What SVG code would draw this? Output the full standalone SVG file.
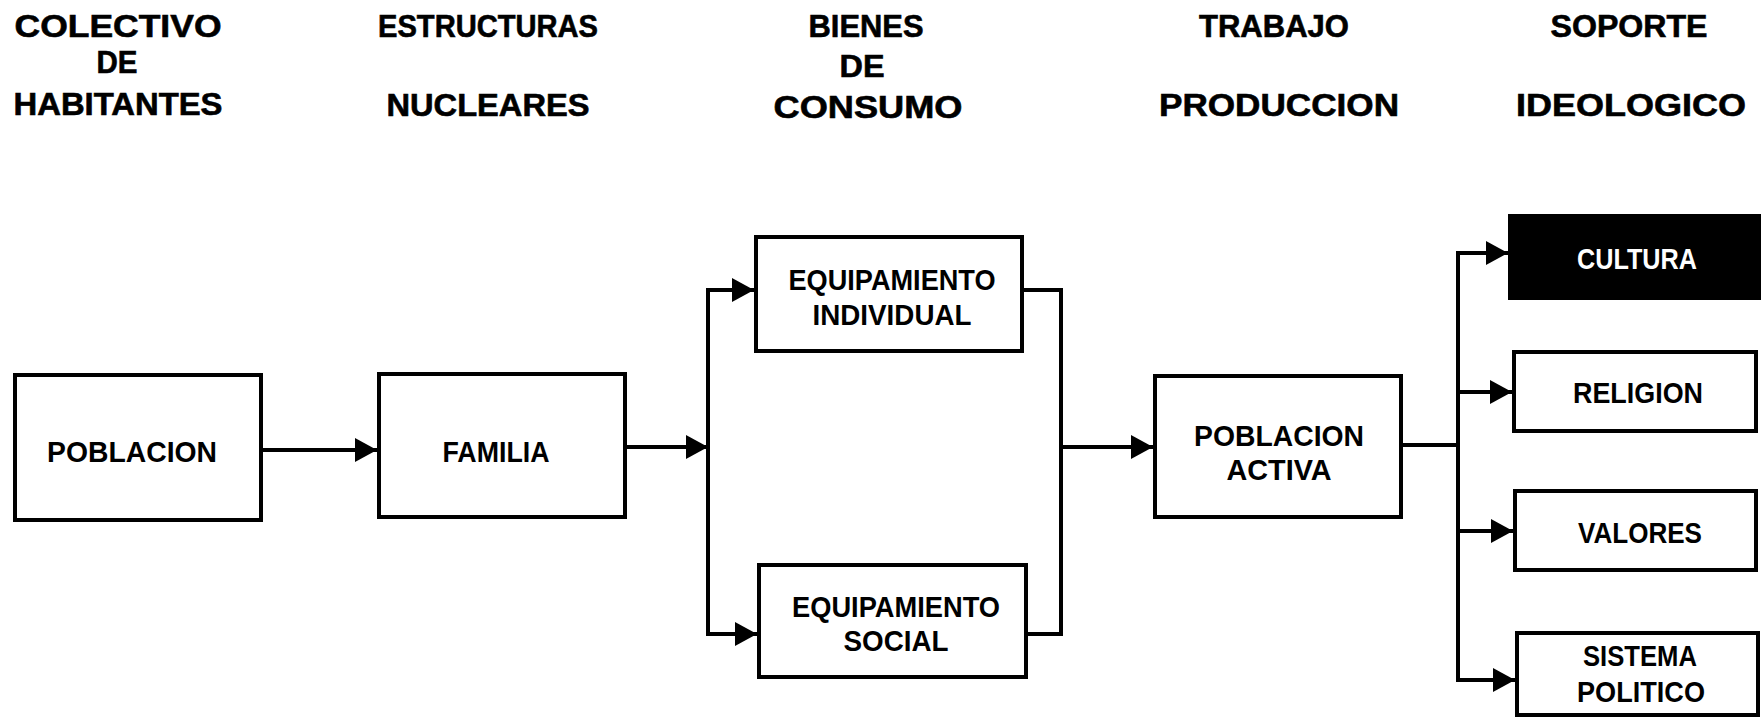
<svg xmlns="http://www.w3.org/2000/svg" width="1761" height="719" viewBox="0 0 1761 719">
  <style>
    .box { fill: #ffffff; stroke: #000000; stroke-width: 4; }
    .dark { fill: #000000; stroke: #000000; stroke-width: 2; }
    .t { font-family: "Liberation Sans", Arial, sans-serif; font-weight: bold; font-size: 30px; fill: #000000; text-anchor: middle; }
    .w { fill: #ffffff; }
    .h { font-family: "Liberation Sans", Arial, sans-serif; font-weight: bold; font-size: 31px; fill: #000000; text-anchor: middle; stroke: #000000; stroke-width: 0.6; }
    .c { fill: none; stroke: #000000; stroke-width: 4; }
  </style>
  <defs>
    <marker id="arr" markerUnits="userSpaceOnUse" markerWidth="22" markerHeight="24" refX="22" refY="12" orient="auto">
      <path d="M0,0 L22,12 L0,24 Z" fill="#000000"/>
    </marker>
  </defs>
  <rect width="1761" height="719" fill="#ffffff"/>

  <g id="headers">
    <text class="h" x="118" y="37" textLength="207" lengthAdjust="spacingAndGlyphs">COLECTIVO</text>
    <text class="h" x="117" y="73" textLength="41" lengthAdjust="spacingAndGlyphs">DE</text>
    <text class="h" x="118" y="115" textLength="209" lengthAdjust="spacingAndGlyphs">HABITANTES</text>
    <text class="h" x="488" y="37" textLength="220" lengthAdjust="spacingAndGlyphs">ESTRUCTURAS</text>
    <text class="h" x="488" y="116" textLength="203" lengthAdjust="spacingAndGlyphs">NUCLEARES</text>
    <text class="h" x="866" y="37" textLength="115" lengthAdjust="spacingAndGlyphs">BIENES</text>
    <text class="h" x="862" y="77" textLength="45" lengthAdjust="spacingAndGlyphs">DE</text>
    <text class="h" x="868" y="118" textLength="189" lengthAdjust="spacingAndGlyphs">CONSUMO</text>
    <text class="h" x="1274" y="37" textLength="150" lengthAdjust="spacingAndGlyphs">TRABAJO</text>
    <text class="h" x="1279" y="116" textLength="240" lengthAdjust="spacingAndGlyphs">PRODUCCION</text>
    <text class="h" x="1629" y="37" textLength="157" lengthAdjust="spacingAndGlyphs">SOPORTE</text>
    <text class="h" x="1631" y="116" textLength="230" lengthAdjust="spacingAndGlyphs">IDEOLOGICO</text>
  </g>

  <g id="connectors">
    <line class="c" x1="263" y1="450" x2="377" y2="450" marker-end="url(#arr)"/>
    <line class="c" x1="627" y1="447" x2="708" y2="447" marker-end="url(#arr)"/>
    <line class="c" x1="708" y1="288" x2="708" y2="636"/>
    <line class="c" x1="706" y1="290" x2="754" y2="290" marker-end="url(#arr)"/>
    <line class="c" x1="706" y1="634" x2="757" y2="634" marker-end="url(#arr)"/>
    <polyline class="c" points="1024,290 1061,290 1061,634 1028,634"/>
    <line class="c" x1="1061" y1="447" x2="1153" y2="447" marker-end="url(#arr)"/>
    <line class="c" x1="1403" y1="445" x2="1458" y2="445"/>
    <line class="c" x1="1458" y1="251" x2="1458" y2="682"/>
    <line class="c" x1="1456" y1="253" x2="1508" y2="253" marker-end="url(#arr)"/>
    <line class="c" x1="1458" y1="392" x2="1512" y2="392" marker-end="url(#arr)"/>
    <line class="c" x1="1458" y1="531" x2="1513" y2="531" marker-end="url(#arr)"/>
    <line class="c" x1="1456" y1="680" x2="1515" y2="680" marker-end="url(#arr)"/>
  </g>

  <g id="poblacion">
    <rect class="box" x="15" y="375" width="246" height="145"/>
    <text class="t" x="132" y="462" textLength="170" lengthAdjust="spacingAndGlyphs">POBLACION</text>
  </g>
  <g id="familia">
    <rect class="box" x="379" y="374" width="246" height="143"/>
    <text class="t" x="496" y="462" textLength="107" lengthAdjust="spacingAndGlyphs">FAMILIA</text>
  </g>
  <g id="equipamiento-individual">
    <rect class="box" x="756" y="237" width="266" height="114"/>
    <text class="t" x="892" y="290" textLength="207" lengthAdjust="spacingAndGlyphs">EQUIPAMIENTO</text>
    <text class="t" x="892" y="325" textLength="159" lengthAdjust="spacingAndGlyphs">INDIVIDUAL</text>
  </g>
  <g id="equipamiento-social">
    <rect class="box" x="759" y="565" width="267" height="112"/>
    <text class="t" x="896" y="617" textLength="208" lengthAdjust="spacingAndGlyphs">EQUIPAMIENTO</text>
    <text class="t" x="896" y="651" textLength="105" lengthAdjust="spacingAndGlyphs">SOCIAL</text>
  </g>
  <g id="poblacion-activa">
    <rect class="box" x="1155" y="376" width="246" height="141"/>
    <text class="t" x="1279" y="446" textLength="170" lengthAdjust="spacingAndGlyphs">POBLACION</text>
    <text class="t" x="1279" y="480" textLength="105" lengthAdjust="spacingAndGlyphs">ACTIVA</text>
  </g>
  <g id="cultura">
    <rect class="dark" x="1509" y="215" width="254" height="84"/>
    <text class="t w" x="1637" y="269" textLength="120" lengthAdjust="spacingAndGlyphs">CULTURA</text>
  </g>
  <g id="religion">
    <rect class="box" x="1514" y="352" width="242" height="79"/>
    <text class="t" x="1638" y="403" textLength="130" lengthAdjust="spacingAndGlyphs">RELIGION</text>
  </g>
  <g id="valores">
    <rect class="box" x="1515" y="491" width="241" height="79"/>
    <text class="t" x="1640" y="543" textLength="124" lengthAdjust="spacingAndGlyphs">VALORES</text>
  </g>
  <g id="sistema-politico">
    <rect class="box" x="1517" y="633" width="241" height="82"/>
    <text class="t" x="1640" y="666" textLength="114" lengthAdjust="spacingAndGlyphs">SISTEMA</text>
    <text class="t" x="1641" y="702" textLength="128" lengthAdjust="spacingAndGlyphs">POLITICO</text>
  </g>
</svg>
